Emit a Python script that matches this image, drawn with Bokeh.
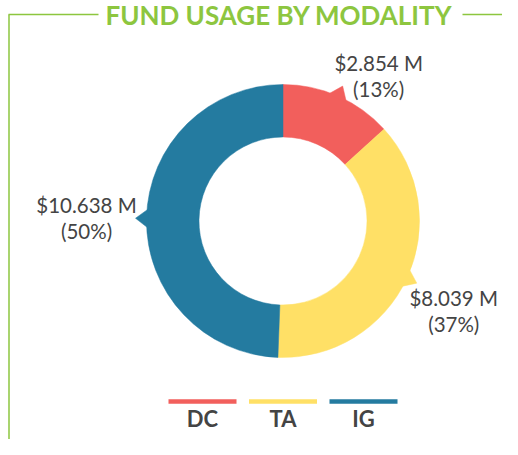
import math
from bokeh.plotting import figure
from bokeh.models import Range1d
from bokeh.core.properties import value
from bokeh.embed import file_html
from bokeh.resources import INLINE

# ---- data ----
title = "FUND USAGE BY MODALITY"
categories = ["DC", "TA", "IG"]
amounts = [2.854, 8.039, 10.638]          # $ millions
percent_labels = ["(13%)", "(37%)", "(50%)"]
colors = ["#F25F5C", "#FFE066", "#247BA0"]

# ---- layout / style constants ----
W, H = 502, 439
FONT = value("Lato")
TEXT_COL = "#444444"
GREEN = "#8DC63F"


def Y(img_y):
    """convert a pixel y (downwards) into data y (upwards)"""
    return H - img_y


p = figure(width=W, height=H, x_range=Range1d(0, W), y_range=Range1d(0, H),
           output_backend="svg", toolbar_location=None, min_border=0,
           x_axis_type=None, y_axis_type=None)
p.grid.visible = False
p.outline_line_color = None
p.background_fill_color = "white"

# donut geometry
cx, cy = 282.5, Y(220.5)
r_in, r_out = 84, 136.5

total = sum(amounts)
fracs = [a / total for a in amounts]
cum_start, cum_end = [], []
c = 0.0
for f in fracs:
    cum_start.append(c)
    c += f
    cum_end.append(c)


def ang(frac):
    return math.pi / 2 - 2 * math.pi * frac


p.annular_wedge(x=cx, y=cy, inner_radius=r_in, outer_radius=r_out,
                start_angle=[ang(e) for e in cum_end],
                end_angle=[ang(s) for s in cum_start],
                fill_color=colors, line_color=colors, line_width=0.5)

# pointer tabs at slice mid angles
xs, ys, tips = [], [], []
half = 0.075
tip_r = r_out + 11
for s, e in zip(cum_start, cum_end):
    t = ang((s + e) / 2)
    b1 = (cx + (r_out - 2) * math.cos(t - half), cy + (r_out - 2) * math.sin(t - half))
    b2 = (cx + (r_out - 2) * math.cos(t + half), cy + (r_out - 2) * math.sin(t + half))
    tp = (cx + tip_r * math.cos(t), cy + tip_r * math.sin(t))
    xs.append([b1[0], tp[0], b2[0]])
    ys.append([b1[1], tp[1], b2[1]])
    tips.append(tp)
p.patches(xs=xs, ys=ys, fill_color=colors, line_color=colors, line_width=0.5)

# callout labels (offset from tip, in pixels; dy downward)
offsets = [(36, -10.5), (37, 27.5), (-49, 0)]
vx, vy, px_, py_ = [], [], [], []
for (tx, ty), (dx, dy) in zip(tips, offsets):
    lx, ly = tx + dx, ty - dy
    vx.append(lx); vy.append(ly + 13)
    px_.append(lx); py_.append(ly - 13)
value_labels = [f"${a:.3f} M" for a in amounts]
p.text(x=vx, y=vy, text=value_labels, text_font=FONT, text_font_size="20.5px",
       text_color=TEXT_COL, text_align="center", text_baseline="middle")
p.text(x=px_, y=py_, text=percent_labels, text_font=FONT, text_font_size="20.5px",
       text_color=TEXT_COL, text_align="center", text_baseline="middle")

# legend
leg_x = [cx + (i - (len(categories) - 1) / 2) * 80.5 for i in range(len(categories))]
p.rect(x=leg_x, y=Y(401), width=68, height=4.5, fill_color=colors, line_color=None)
p.text(x=leg_x, y=Y(418), text=categories, text_font=FONT, text_font_size="22px",
       text_font_style="bold", text_color=TEXT_COL, text_align="center", text_baseline="middle")

# frame and title
title_y = 14
line_y = Y(title_y)
p.segment(x0=[8.5, 8, 462], y0=[line_y, line_y, line_y], x1=[8.5, 98, W], y1=[Y(H), line_y, line_y],
          line_color=GREEN, line_width=1.5)
p.text(x=[278.5], y=[Y(title_y)], text=[title], text_font=FONT, text_font_size="26px",
       text_font_style="bold", text_color=GREEN, text_align="center", text_baseline="middle")

open("out.html", "w").write(file_html(p, INLINE))
